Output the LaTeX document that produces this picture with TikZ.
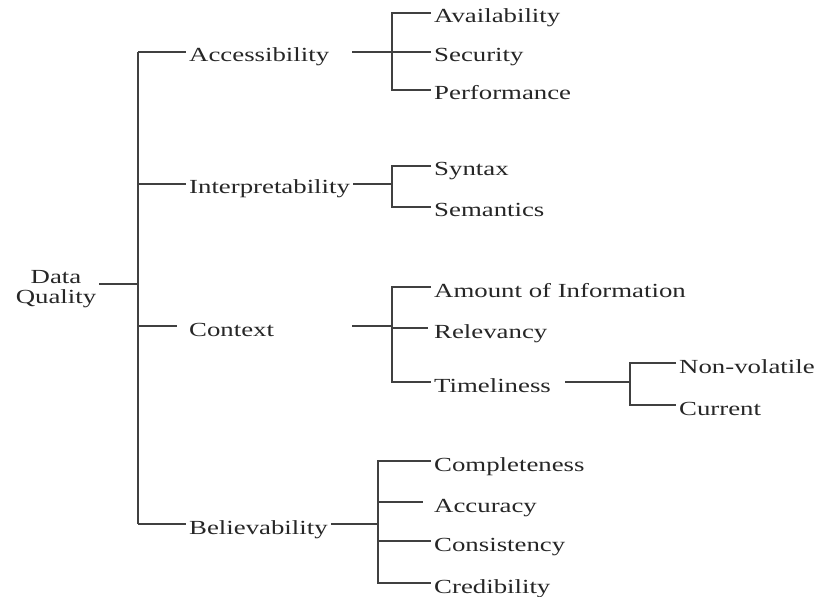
\documentclass[tikz,border=0pt]{standalone}
\usepackage{fontspec}
\setmainfont{Liberation Serif}[FakeStretch=1.34]

\begin{document}
\begin{tikzpicture}[
    x=1bp, y=-1bp,
    term/.style={anchor=west, inner sep=3bp, text=black!85, font=\fontsize{20bp}{20bp}\selectfont, text height=20bp, text depth=0pt},
    rootbox/.style={align=center, inner sep=3bp, text=black!85, font=\fontsize{20bp}{20bp}\selectfont},
    link/.style={draw=black!75, line width=1.2bp}
]
\useasboundingbox (0,0) rectangle (818,597);

% Buses
\coordinate (bus0) at (138,0);
\coordinate (bus1) at (392,0);
\coordinate (bus2) at (378,0);
\coordinate (bus3) at (630,0);

% Nodes
\node (root) [rootbox] at (56,289) {Data\\Quality};
\node (acc) [term, text width=160bp, align=left] at (186,52) {Accessibility};
\node (interp) [term] at (186,184) {Interpretability};
\node (ctx) [term, text width=160bp, align=left] at (186,326) {Context};
\node (bel) [term] at (186,524) {Believability};

\node (avail) [term] at (431,13) {Availability};
\node (sec) [term] at (431,52) {Security};
\node (perf) [term] at (431,90) {Performance};
\node (syn) [term] at (431,166) {Syntax};
\node (sem) [term] at (431,207) {Semantics};
\node (amt) [term] at (431,287) {Amount of Information};
\node (rel) [term] at (431,328) {Relevancy};
\node (time) [term, text width=128bp, align=left] at (431,382) {Timeliness};
\node (nonvol) [term] at (676,363) {Non-volatile};
\node (curr) [term] at (676,405) {Current};
\node (comp) [term] at (431,461) {Completeness};
\node (accu) [term] at (431,502) {Accuracy};
\node (cons) [term] at (431,541) {Consistency};
\node (cred) [term] at (431,583) {Credibility};

% Lines
\draw[link] ([yshift=5bp]root.east) -- ([yshift=5bp]root.east -| bus0);
\draw[link] (bus0 |- acc.west) -- (bus0 |- bel.west);
\foreach \n in {acc,interp,bel}
    \draw[link] (bus0 |- \n.west) -- (\n.west);
\draw[link, shorten >=9bp] (bus0 |- ctx.west) -- (ctx.west);

\draw[link] (acc.east) -- (acc.east -| bus1);
\draw[link] (avail.west) -| (bus1 |- perf.west) -- (perf.west);
\draw[link] (bus1 |- sec.west) -- (sec.west);

\draw[link] (interp.east) -- (interp.east -| bus1);
\draw[link] (syn.west) -| (bus1 |- sem.west) -- (sem.west);

\draw[link] (ctx.east) -- (ctx.east -| bus1);
\draw[link] (amt.west) -| (bus1 |- time.west) -- (time.west);
\draw[link, shorten >=3bp] (bus1 |- rel.west) -- (rel.west);

\draw[link] (time.east) -- (time.east -| bus3);
\draw[link] (nonvol.west) -| (bus3 |- curr.west) -- (curr.west);

\draw[link] (bel.east) -- (bel.east -| bus2);
\draw[link] (comp.west) -| (bus2 |- cred.west) -- (cred.west);
\draw[link, shorten >=8bp] (bus2 |- accu.west) -- (accu.west);
\draw[link] (bus2 |- cons.west) -- (cons.west);

\end{tikzpicture}
\end{document}
